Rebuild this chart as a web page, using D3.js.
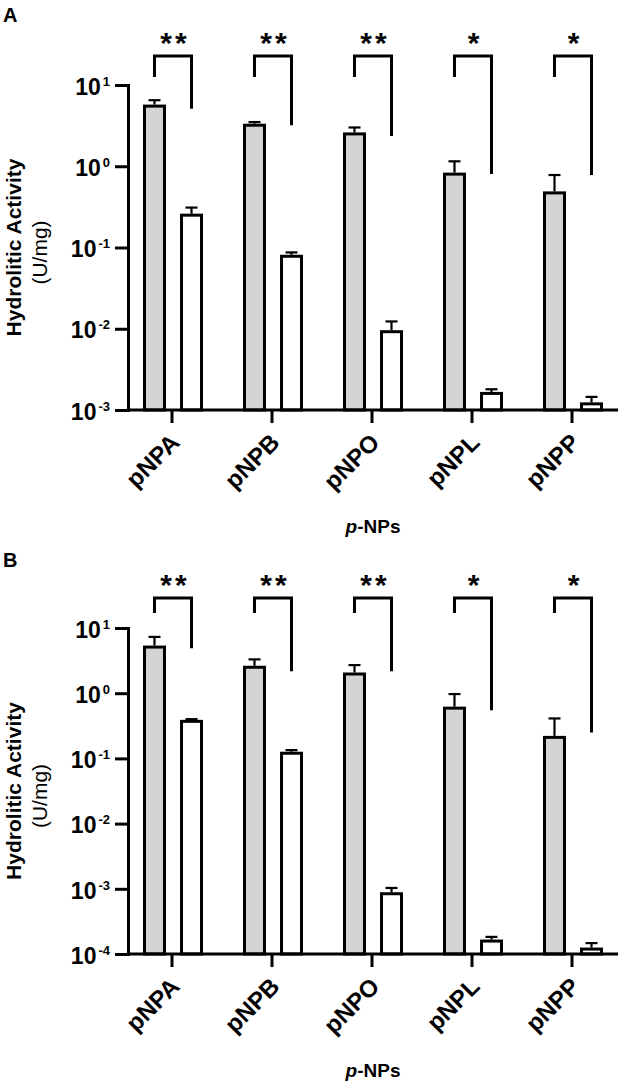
<!DOCTYPE html>
<html>
<head>
<meta charset="utf-8">
<script src="https://cdn.jsdelivr.net/npm/d3@7"></script>
<style>
  body { margin: 0; background: #fff; }
  svg text { font-family: "Liberation Sans", Arial, sans-serif; }
</style>
</head>
<body>
<div id="chart"></div>
<script>
// substrates on the x axis
var categories = ["pNPA", "pNPB", "pNPO", "pNPL", "pNPP"];

// panel A values (U/mg), mean and upper SD
var meanA1 = [5.5, 3.2, 2.5, 0.80, 0.47];
var sdA1 = [1.0, 0.3, 0.5, 0.35, 0.31];
var meanA2 = [0.25, 0.078, 0.0092, 0.0016, 0.00119];
var sdA2 = [0.06, 0.009, 0.0031, 0.0002, 0.00026];
var sigA = ["**", "**", "**", "*", "*"];
var bracketEndA = [5.1, 3.2, 2.35, 0.80, 0.78];
var ticksA = [-3, -2, -1, 0, 1];

// panel B values (U/mg)
var meanB1 = [5.1, 2.5, 1.97, 0.59, 0.21];
var sdB1 = [2.2, 0.8, 0.73, 0.38, 0.2];
var meanB2 = [0.37, 0.12, 0.00084, 0.000158, 0.000119];
var sdB2 = [0.03, 0.014, 0.00019, 0.000025, 0.000028];
var sigB = ["**", "**", "**", "*", "*"];
var bracketEndB = [4.9, 2.17, 2.17, 0.55, 0.25];
var ticksB = [-4, -3, -2, -1, 0, 1];

var svgWidth = 624;
var svgHeight = 1087;
var axisX = 128;
var axisRight = 618;

var svg = d3.select("#chart")
    .append("svg")
    .attr("width", svgWidth)
    .attr("height", svgHeight);

var panels = [
    { label: "A", labelY: 22, top: 85, bottom: 410, exps: ticksA,
      m1: meanA1, s1: sdA1, m2: meanA2, s2: sdA2, sig: sigA, bEnd: bracketEndA,
      bracketGap: 29, leftLeg: 21 },
    { label: "B", labelY: 567, top: 628, bottom: 954, exps: ticksB,
      m1: meanB1, s1: sdB1, m2: meanB2, s2: sdB2, sig: sigB, bEnd: bracketEndB,
      bracketGap: 30, leftLeg: 15 }
];

panels.forEach(drawPanel);

function drawPanel(p) {
    var g = svg.append("g");

    // scales
    var yScale = d3.scaleLog()
        .domain([Math.pow(10, d3.min(p.exps)), Math.pow(10, d3.max(p.exps))])
        .range([p.bottom, p.top]);

    var x0 = d3.scaleBand()
        .domain(categories)
        .range([122, 622]);

    var x1 = d3.scaleBand()
        .domain(["s1", "s2"])
        .range([22.5, 79.5])
        .paddingInner(0.46);

    var bw = x1.bandwidth();

    var rows = [];
    categories.forEach(function(c, i) {
        rows.push({ cat: c, key: "s1", mean: p.m1[i], sd: p.s1[i] });
        rows.push({ cat: c, key: "s2", mean: p.m2[i], sd: p.s2[i] });
    });

    // bars
    g.selectAll("rect.bar")
        .data(rows)
        .enter()
        .append("rect")
        .attr("class", "bar")
        .attr("x", d => x0(d.cat) + x1(d.key))
        .attr("width", bw)
        .attr("y", d => yScale(d.mean))
        .attr("height", d => p.bottom - yScale(d.mean))
        .attr("fill", d => d.key == "s1" ? "#d4d4d4" : "#fff")
        .attr("stroke", "#000")
        .attr("stroke-width", 3);

    // error bars (upper only)
    var err = g.selectAll("g.err")
        .data(rows)
        .enter()
        .append("g")
        .attr("class", "err")
        .attr("stroke", "#000")
        .attr("stroke-width", 2.2);

    err.append("line")
        .attr("x1", d => x0(d.cat) + x1(d.key) + bw / 2)
        .attr("x2", d => x0(d.cat) + x1(d.key) + bw / 2)
        .attr("y1", d => yScale(d.mean) - 1.5)
        .attr("y2", d => yScale(d.mean + d.sd));

    err.append("line")
        .attr("x1", d => x0(d.cat) + x1(d.key) + bw / 2 - 6)
        .attr("x2", d => x0(d.cat) + x1(d.key) + bw / 2 + 6)
        .attr("y1", d => yScale(d.mean + d.sd))
        .attr("y2", d => yScale(d.mean + d.sd));

    // y axis
    var leftAxis = d3.axisLeft(yScale)
        .tickValues(p.exps.map(e => Math.pow(10, e)))
        .tickSize(13)
        .tickSizeOuter(0)
        .tickPadding(5)
        .tickFormat("");

    var yG = g.append("g")
        .attr("transform", `translate(${axisX}, 0)`)
        .call(leftAxis);

    yG.select(".domain").attr("stroke-width", 3).attr("stroke-linecap", "square");
    yG.selectAll(".tick line").attr("stroke-width", 3);
    yG.selectAll(".tick text")
        .attr("font-family", null)
        .attr("font-size", 23)
        .attr("font-weight", "bold")
        .attr("fill", "#000")
        .attr("dy", "0.40em")
        .each(function(d) {
            var t = d3.select(this);
            var e = Math.round(Math.log10(d));
            t.append("tspan").text("10");
            t.append("tspan")
                .attr("dx", 2)
                .attr("dy", -9)
                .attr("font-size", 13)
                .text(e < 0 ? "-" + (-e) : e);
        });

    // x axis
    var bottomAxis = d3.axisBottom(x0)
        .tickSize(13)
        .tickSizeOuter(0);

    var xG = g.append("g")
        .attr("transform", `translate(0, ${p.bottom})`)
        .call(bottomAxis);

    xG.select(".domain").remove();
    xG.append("line")
        .attr("x1", axisX)
        .attr("x2", axisRight)
        .attr("stroke", "#000")
        .attr("stroke-width", 3);
    xG.selectAll(".tick line").attr("stroke-width", 3);
    xG.selectAll(".tick text")
        .attr("font-family", null)
        .attr("font-size", 24)
        .attr("font-weight", "bold")
        .attr("fill", "#000")
        .attr("y", 0)
        .attr("dy", 0)
        .attr("text-anchor", "end")
        .attr("transform", "translate(9, 34) rotate(-45)");

    // significance brackets
    var topY = p.top - p.bracketGap;
    categories.forEach(function(c, i) {
        var lx = x0(c) + x1("s1") + bw / 2;
        var rx = x0(c) + x1("s2") + bw / 2;
        g.append("path")
            .attr("d", `M${lx},${topY + p.leftLeg}V${topY}H${rx}V${yScale(p.bEnd[i])}`)
            .attr("fill", "none")
            .attr("stroke", "#000")
            .attr("stroke-width", 3);
        g.append("text")
            .attr("x", (lx + rx) / 2 + 2)
            .attr("y", topY - 3)
            .attr("text-anchor", "middle")
            .attr("font-size", 30)
            .attr("font-weight", "bold")
            .attr("letter-spacing", 3)
            .text(p.sig[i]);
    });

    // axis titles
    var midY = (p.top + p.bottom) / 2;
    g.append("text")
        .attr("transform", `translate(21, ${midY}) rotate(-90)`)
        .attr("text-anchor", "middle")
        .attr("font-size", 21)
        .attr("font-weight", "bold")
        .text("Hydrolitic Activity");

    g.append("text")
        .attr("transform", `translate(47, ${midY + 5}) rotate(-90)`)
        .attr("text-anchor", "middle")
        .attr("font-size", 21)
        .text("(U/mg)");

    var xTitle = g.append("text")
        .attr("x", (axisX + axisRight) / 2)
        .attr("y", p.bottom + 123)
        .attr("text-anchor", "middle")
        .attr("font-size", 19)
        .attr("font-weight", "bold");
    xTitle.append("tspan").attr("font-style", "italic").text("p");
    xTitle.append("tspan").text("-NPs");

    // panel letter
    g.append("text")
        .attr("x", 3)
        .attr("y", p.labelY)
        .attr("font-size", 20)
        .attr("font-weight", "bold")
        .text(p.label);
}
</script>
</body>
</html>
